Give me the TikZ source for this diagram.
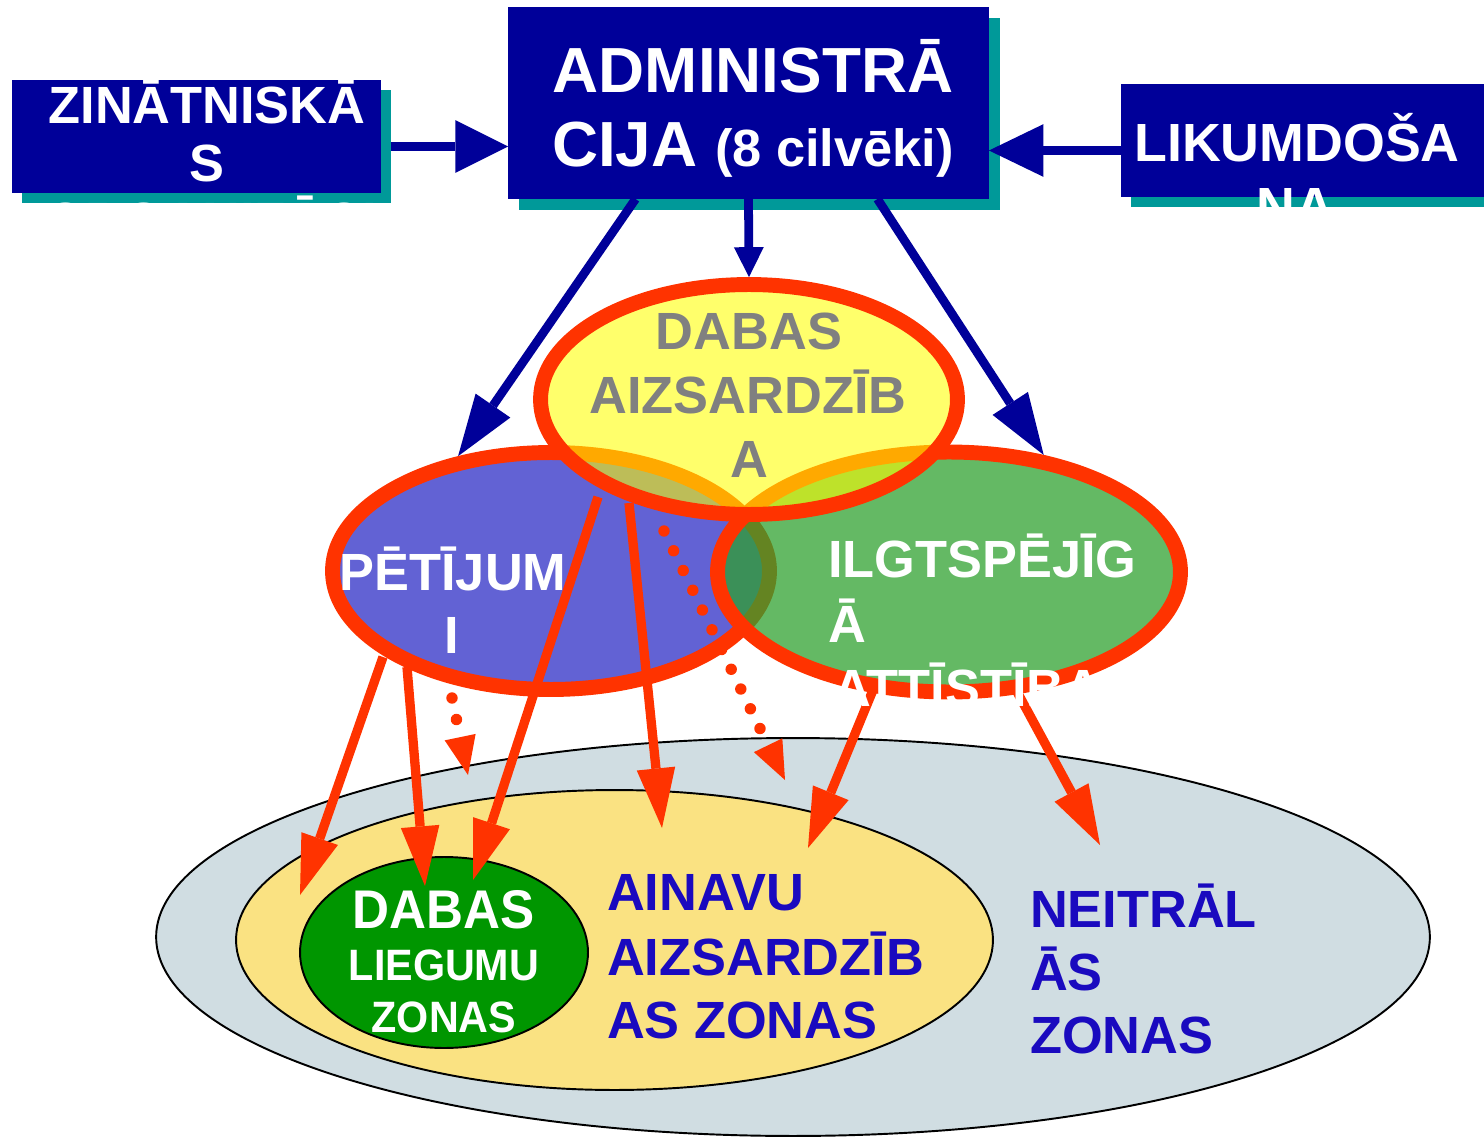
\documentclass[tikz,border=0pt]{standalone}
\usepackage{fontspec}
\setmainfont{Liberation Sans}
\usetikzlibrary{arrows.meta,shapes.geometric}
\definecolor{navyb}{RGB}{0,0,153}
\definecolor{tealsh}{RGB}{0,153,153}
\definecolor{redo}{RGB}{255,51,0}
\definecolor{ellblue}{RGB}{98,98,212}
\definecolor{ellgreen}{RGB}{46,161,46}
\definecolor{ellyellow}{RGB}{255,255,0}
\definecolor{zgray}{RGB}{208,221,226}
\definecolor{zyellow}{RGB}{250,226,130}
\definecolor{zgreen}{RGB}{0,150,0}
\definecolor{ztext}{RGB}{26,10,191}
\definecolor{gtext}{RGB}{128,128,128}
\newcommand{\fmain}{\fontsize{29.8}{36}\selectfont\bfseries}
\newcommand{\fadm}{\fontsize{36.3}{42}\selectfont\bfseries}
\newcommand{\flik}{\fontsize{30.6}{36}\selectfont\bfseries}
\newcommand{\fcirA}{\fontsize{31}{36}\selectfont\bfseries}
\newcommand{\fcirB}{\fontsize{25}{30}\selectfont\bfseries}
\begin{document}
\begin{tikzpicture}[x=0.02cm,y=-0.02cm,
  box/.style={rectangle, draw=none, inner sep=0pt, outer sep=0pt},
  shadowbox/.style={box, fill=tealsh},
  bluebox/.style={box, fill=navyb},
  txt/.style={inner sep=0pt, outer sep=0pt, anchor=base, font=\fmain},
  wtxt/.style={txt, text=white},
  ltxt/.style={txt, anchor=base west},
  zoneE/.style={ellipse, draw=black, line width=1.1pt, inner sep=0pt},
  topE/.style={ellipse, draw=redo, line width=8.5pt, inner sep=0pt},
  barrow/.style={draw=navyb, line width=5pt},
  bighead/.style={-{Triangle[length=35pt,width=24pt,line width=0pt]}},
  redarrow/.style={draw=redo, line width=5.3pt, -{Triangle[length=34pt,width=22pt,line width=0pt]}},
  dotarrow/.style={draw=redo, line width=6.5pt, line cap=round, dash pattern=on 0pt off 12.5pt, -{Triangle[length=22pt,width=18pt,line width=0pt]}}
]
\useasboundingbox (0,0) rectangle (1484,1138);

% ---- top boxes
\node[shadowbox, minimum width=7.38cm, minimum height=2.26cm] (zinsh) at (206.5,146.5) {};
\node[bluebox, minimum width=7.38cm, minimum height=2.26cm] (zin) at (196.5,136.5) {};
\node[shadowbox, minimum width=9.62cm, minimum height=3.84cm] (admsh) at (759.5,114) {};
\node[bluebox, minimum width=9.62cm, minimum height=3.84cm] (adm) at (748.5,103) {};
\node[shadowbox, minimum width=7.38cm, minimum height=2.26cm] (liksh) at (1315.5,150.5) {};
\node[bluebox, minimum width=7.38cm, minimum height=2.26cm] (lik) at (1305.5,140.5) {};

\node[wtxt] (zin1) at (207,124) {ZINĀTNISKĀ};
\node[wtxt] (zin2) at (207,182) {S};
\node[wtxt] (zin3) at (211,240) {ORGANIZĀCI};
\node[wtxt, font=\fadm] (adm1) at (753,93) {ADMINISTRĀ};
\node[wtxt, font=\fadm] (adm2) at (753,167) {CIJA {\fmain (8 cilvēki)}};
\node[wtxt, font=\flik] (lik1) at (1297,162) {LIKUMDOŠA};
\node[wtxt, font=\flik] (lik2) at (1295,226) {NA};

% ---- bottom zones
\node[zoneE, fill=zgray, minimum width=25.48cm, minimum height=7.96cm] (neitr) at (793,937) {};
\node[zoneE, fill=zyellow, minimum width=15.14cm, minimum height=6cm] (ainavu) at (614.5,940) {};
\node[zoneE, fill=zgreen, minimum width=5.76cm, minimum height=3.82cm] (liegum) at (444,952.5) {};

\node[wtxt, font=\fcirA, xscale=0.94] (lg1) at (444,928) {DABAS};
\node[wtxt, font=\fcirB, xscale=0.94] (lg2) at (444,980) {LIEGUMU};
\node[wtxt, font=\fcirB, xscale=0.94] (lg3) at (444,1032) {ZONAS};
\node[ltxt, text=ztext] (ai1) at (607,910) {AINAVU};
\node[ltxt, text=ztext] (ai2) at (607,975) {AIZSARDZĪB};
\node[ltxt, text=ztext] (ai3) at (607,1038) {AS ZONAS};
\node[ltxt, text=ztext] (ne1) at (1030,927) {NEITRĀL};
\node[ltxt, text=ztext] (ne2) at (1030,990) {ĀS};
\node[ltxt, text=ztext] (ne3) at (1030,1053) {ZONAS};

% ---- overlapping ellipses
\node[topE, fill=ellblue, minimum width=8.74cm, minimum height=4.74cm] (blu) at (551,571) {};
\node[topE, fill=ellgreen, fill opacity=0.74, minimum width=9.26cm, minimum height=4.8cm] (grn) at (949,572) {};
\node[topE, fill=ellyellow, fill opacity=0.58, minimum width=8.34cm, minimum height=4.6cm] (yel) at (749,399.5) {};

% ---- blue arrows
\draw[barrow, -{Triangle[length=30pt,width=30pt,line width=0pt]}] (zinsh.east) -- (zinsh.east -| adm.west);
\draw[barrow, -{Triangle[length=31pt,width=30pt,line width=0pt]}] (liksh.west) -- (liksh.west -| adm.east);
\draw[barrow, bighead] ([xshift=-64.3pt]adm.south) -- (blu.129);
\draw[barrow, -{Triangle[length=17pt,width=17pt,line width=0pt]}] (adm.south) -- (yel.north);
\draw[barrow, bighead] ([xshift=73.4pt]adm.south) -- (grn.51);

% ---- red arrows
\coordinate (r1s) at (383,657); \coordinate (r1e) at (300,895);
\coordinate (r2s) at (407,667); \coordinate (r2e) at (425,886);
\coordinate (r3s) at (598,497); \coordinate (r3e) at (473,880);
\coordinate (r4s) at (629,503); \coordinate (r4e) at (662,828);
\coordinate (r5s) at (873,690); \coordinate (r5e) at (808,848);
\coordinate (r6s) at (1015,688); \coordinate (r6e) at (1100,845);
\coordinate (d1s) at (452,698); \coordinate (d1e) at (468,775);
\coordinate (d2s) at (664,531); \coordinate (d2e) at (785,780);
\draw[redarrow] (r1s) -- (r1e);
\draw[redarrow] (r2s) -- (r2e);
\draw[redarrow] (r3s) -- (r3e);
\draw[redarrow] (r4s) -- (r4e);
\draw[redarrow] (r5s) -- (r5e);
\draw[redarrow] (r6s) -- (r6e);
\draw[dotarrow] (d1s) -- (d1e);
\draw[dotarrow] (d2s) -- (d2e);

% ---- ellipse texts
\node[txt, text=gtext] (ye1) at (749,350) {DABAS};
\node[txt, text=gtext] (ye2) at (748,414) {AIZSARDZĪB};
\node[txt, text=gtext] (ye3) at (749,477) {A};
\node[wtxt] (bl1) at (453,590) {PĒTĪJUM};
\node[wtxt] (bl2) at (452,653) {I};
\node[ltxt, text=white] (gr1) at (828,577) {ILGTSPĒJĪG};
\node[ltxt, text=white] (gr2) at (828,642) {Ā};
\node[ltxt, text=white] (gr3) at (833,706) {ATTĪSTĪBA};
\end{tikzpicture}
\end{document}
